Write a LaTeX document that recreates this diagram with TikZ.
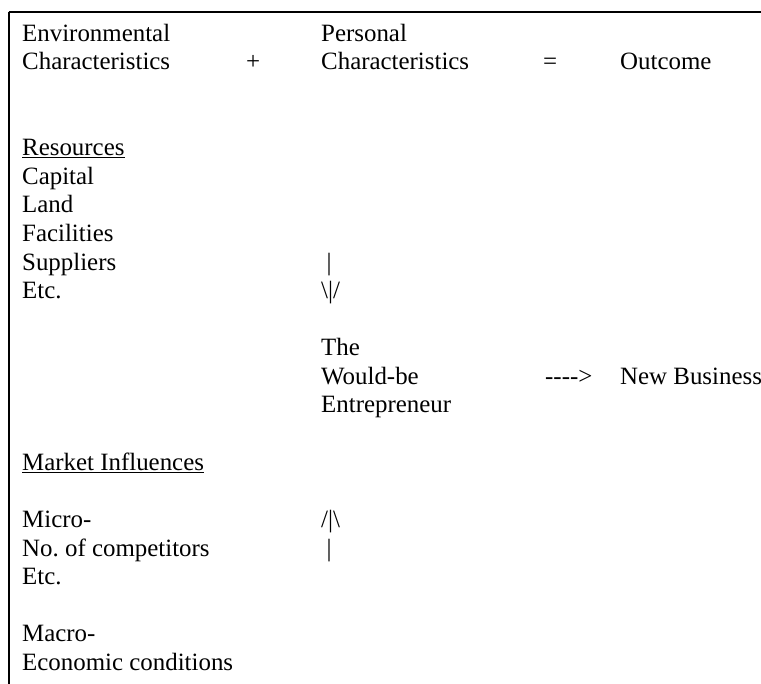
\documentclass[tikz,border=0pt]{standalone}
\usepackage{fontspec}
\setmainfont{Liberation Serif}
\usetikzlibrary{backgrounds}
\pgfdeclarelayer{edgelayer}
\pgfdeclarelayer{nodelayer}
\pgfsetlayers{edgelayer,nodelayer,main}
\tikzset{font=\fontsize{24.9}{28.6}\selectfont, x=1pt, y=1pt}
\tikzstyle{none}=[inner sep=0pt]
\tikzstyle{txt}=[inner sep=0pt,anchor=base west,align=left]
\begin{document}
\begin{tikzpicture}
	\useasboundingbox (0, 0) rectangle (761, -684);
	\begin{pgfonlayer}{nodelayer}
		\node [style=none] (c0) at (8.5, -12) {};
		\node [style=none] (c1) at (761, -12) {};
		\node [style=none] (c2) at (8.5, -684) {};
		\node [style=txt] (0) at (22, -70) {Environmental\\Characteristics};
		\node [style=txt] (1) at (246, -70) {+};
		\node [style=txt] (2) at (321, -70) {Personal\\Characteristics};
		\node [style=txt] (3) at (543, -70) {=};
		\node [style=txt] (4) at (620, -70) {Outcome};
		\node [style=txt] (5) at (22, -298.8) {\underline{Resources}\\Capital\\Land\\Facilities\\Suppliers\\Etc.};
		\node [style=txt] (6) at (326.5, -270.2) {|};
		\node [style=txt] (7) at (321, -298.8) {\textbackslash|/};
		\node [style=txt] (8) at (321, -412.8) {The\\Would-be\\Entrepreneur};
		\node [style=txt] (9) at (545, -384.2) {\hbox{-}\hbox{-}\hbox{-}\hbox{-}>};
		\node [style=txt] (10) at (620, -384.2) {New Business};
		\node [style=txt] (11) at (22, -470.4) {\underline{Market Influences}};
		\node [style=txt] (12) at (22, -584.8) {Micro-\\No.\ of competitors\\Etc.};
		\node [style=txt] (13) at (321, -527.6) {/|\textbackslash};
		\node [style=txt] (14) at (326.5, -556.2) {|};
		\node [style=txt] (15) at (22, -670) {Macro-\\Economic conditions};
	\end{pgfonlayer}
	\begin{pgfonlayer}{edgelayer}
		\draw[line width=2pt] (c0.center) to (c1.center);
		\draw[line width=2pt] (c0.center) to (c2.center);
	\end{pgfonlayer}
\end{tikzpicture}
\end{document}
